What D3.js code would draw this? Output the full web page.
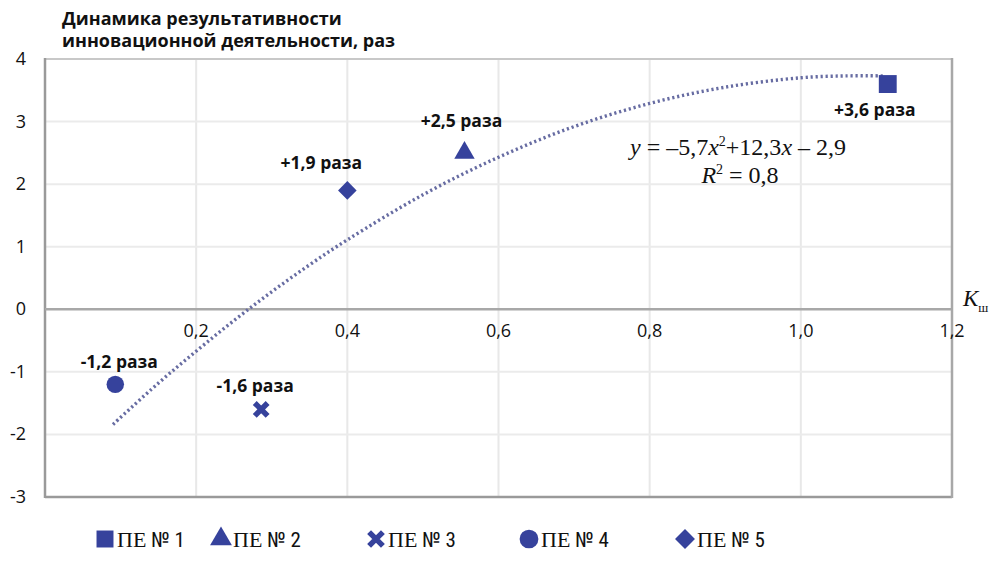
<!DOCTYPE html>
<html>
<head>
<meta charset="utf-8">
<script src="https://cdn.jsdelivr.net/npm/d3@7"></script>
<style>
body{margin:0;background:#fff;}
svg{display:block;}
</style>
</head>
<body>
<svg id="chart" width="989" height="571"></svg>
<script>
// ---------- data ----------
const seriesNames = ["ПЕ № 1","ПЕ № 2","ПЕ № 3","ПЕ № 4","ПЕ № 5"];
const seriesShapes = ["square","triangle","cross","circle","diamond"];
const xValues = [1.115, 0.555, 0.286, 0.093, 0.40];
const yValues = [3.6, 2.5, -1.6, -1.2, 1.9];
const pointLabels = ["+3,6 раза","+2,5 раза","-1,6 раза","-1,2 раза","+1,9 раза"];
const trendX = [0.09,0.15,0.2,0.25,0.3,0.35,0.4,0.5,0.6,0.7,0.8,0.9,1.0,1.06,1.11];
const trendY = [-1.84,-1.18,-0.67,-0.18,0.28,0.71,1.11,1.83,2.43,2.92,3.29,3.55,3.70,3.73,3.73];
const xTicks = [0.2,0.4,0.6,0.8,1.0,1.2];
const yTicks = [-3,-2,-1,0,1,2,3,4];
const titleLines = ["Динамика результативности","инновационной деятельности, раз"];

// ---------- layout ----------
const svg = d3.select("#chart");
const L = 45, R = 952, T = 59, B = 497;
const x = d3.scaleLinear().domain([0,1.2]).range([L,R]);
const y = d3.scaleLinear().domain([-3,4]).range([B,T]);
const blue = "#36429c";
const sans = "'Open Sans', sans-serif";
const serif = "'Liberation Serif','Times New Roman',serif";

// gridlines
const g = svg.append("g");
g.selectAll("line.vg").data(xTicks.filter(d=>d<1.2)).enter().append("line")
  .attr("x1",d=>x(d)).attr("x2",d=>x(d)).attr("y1",T).attr("y2",B)
  .attr("stroke","#e8e8e8").attr("stroke-width",2);
g.selectAll("line.hg").data(yTicks.filter(d=>d!==0 && d!==-3 && d!==4)).enter().append("line")
  .attr("x1",L).attr("x2",R).attr("y1",d=>y(d)).attr("y2",d=>y(d))
  .attr("stroke","#ebebeb").attr("stroke-width",2);

// frame
svg.append("line").attr("x1",L).attr("x2",R).attr("y1",T).attr("y2",T).attr("stroke","#c8c8c8").attr("stroke-width",2);
svg.append("line").attr("x1",L).attr("x2",L).attr("y1",T-1).attr("y2",B+1).attr("stroke","#9a9a9a").attr("stroke-width",2.5);
svg.append("line").attr("x1",L).attr("x2",R).attr("y1",B).attr("y2",B).attr("stroke","#9a9a9a").attr("stroke-width",2.5);
svg.append("line").attr("x1",R).attr("x2",R).attr("y1",T-1).attr("y2",B+1).attr("stroke","#a8a8a8").attr("stroke-width",2.5);
// zero axis
svg.append("line").attr("x1",L).attr("x2",R).attr("y1",y(0)).attr("y2",y(0)).attr("stroke","#a8a8a8").attr("stroke-width",2.5);

// y tick labels
svg.selectAll("text.yt").data(yTicks).enter().append("text")
  .attr("x",26).attr("y",d=>y(d)+6).attr("text-anchor","end")
  .attr("font-family",sans).attr("font-size",18).attr("fill","#111")
  .text(d=>d);
// x tick labels
const fmt = d => d.toFixed(1).replace(".",",");
svg.selectAll("text.xt").data(xTicks).enter().append("text")
  .attr("x",d=>x(d)).attr("y",y(0)+28).attr("text-anchor","middle")
  .attr("font-family",sans).attr("font-size",18).attr("fill","#111")
  .text(fmt);

// axis name K_ш
const kt = svg.append("text").attr("x",963).attr("y",y(0)-3)
  .attr("font-family",serif).attr("font-size",23).attr("fill","#111");
kt.append("tspan").attr("font-style","italic").text("K");
kt.append("tspan").attr("font-size",13).attr("dy",6).text("ш");

// title
svg.selectAll("text.title").data(titleLines).enter().append("text")
  .attr("x",62).attr("y",(d,i)=>25+i*22)
  .attr("font-family",sans).attr("font-weight","bold").attr("font-size",18).attr("fill","#111")
  .text(d=>d);

// trend line
const trend = trendX.map((v,i)=>[v,trendY[i]]);
svg.append("path").datum(trend)
  .attr("d", d3.line().x(d=>x(d[0])).y(d=>y(d[1])).curve(d3.curveCatmullRom))
  .attr("fill","none").attr("stroke","#676ca2").attr("stroke-width",3.4)
  .attr("stroke-dasharray","2.2,2.8").attr("stroke-linecap","butt");

// markers
const symType = {square:d3.symbolSquare, triangle:d3.symbolTriangle, cross:d3.symbolX, circle:d3.symbolCircle, diamond:d3.symbolDiamond2};
const symSize = {square:320, triangle:180, cross:110, circle:240, diamond:220};
function drawSymbol(sel, shape, cx, cy, scale){
  const p = sel.append("path")
    .attr("d", d3.symbol().type(symType[shape]).size(symSize[shape]*(scale||1))())
    .attr("transform",`translate(${cx},${cy})`);
  if(shape==="cross") p.attr("fill","none").attr("stroke",blue).attr("stroke-width",5.5).attr("stroke-linecap","butt");
  else p.attr("fill",blue);
  return p;
}
xValues.forEach((v,i)=>drawSymbol(svg, seriesShapes[i], x(v), y(yValues[i])));

// point labels (offsets relative to points)
const labOff = [[-13,32],[-3,-26],[-6,-17],[4,-16],[-26,-21]];
svg.selectAll("text.pl").data(pointLabels).enter().append("text")
  .attr("x",(d,i)=>x(xValues[i])+labOff[i][0])
  .attr("y",(d,i)=>y(yValues[i])+labOff[i][1])
  .attr("text-anchor","middle")
  .attr("font-family",sans).attr("font-weight","bold").attr("font-size",17.5).attr("fill","#111")
  .text(d=>d);

// equation
const eq = svg.append("text").attr("x",738).attr("y",155).attr("text-anchor","middle")
  .attr("font-family",serif).attr("font-size",24).attr("fill","#111");
eq.append("tspan").attr("font-style","italic").text("y");
eq.append("tspan").text(" = –5,7");
eq.append("tspan").attr("font-style","italic").text("x");
eq.append("tspan").attr("font-size",14).attr("dy",-9).text("2");
eq.append("tspan").attr("dy",9).text("+12,3");
eq.append("tspan").attr("font-style","italic").text("x");
eq.append("tspan").text(" – 2,9");
const r2 = svg.append("text").attr("x",740).attr("y",183).attr("text-anchor","middle")
  .attr("font-family",serif).attr("font-size",24).attr("fill","#111");
r2.append("tspan").attr("font-style","italic").text("R");
r2.append("tspan").attr("font-size",14).attr("dy",-9).text("2");
r2.append("tspan").attr("dy",9).text(" = 0,8");

// legend
const legendX = [105, 221, 376, 529, 685];
const legY = 539;
seriesNames.forEach((name,i)=>{
  const gg = svg.append("g");
  drawSymbol(gg, seriesShapes[i], legendX[i], legY, i===0?0.9:1.15);
  const t = gg.append("text").attr("x",legendX[i]+12).attr("y",legY+8)
    .attr("font-size",22).attr("fill","#111");
  const parts = name.split(" ");
  t.append("tspan").attr("font-family",serif).text(parts[0]);
  t.append("tspan").attr("font-family","'Liberation Sans Narrow','Roboto Condensed',sans-serif").attr("font-size",21).text(" "+parts.slice(1).join(" "));
});
</script>
</body>
</html>
